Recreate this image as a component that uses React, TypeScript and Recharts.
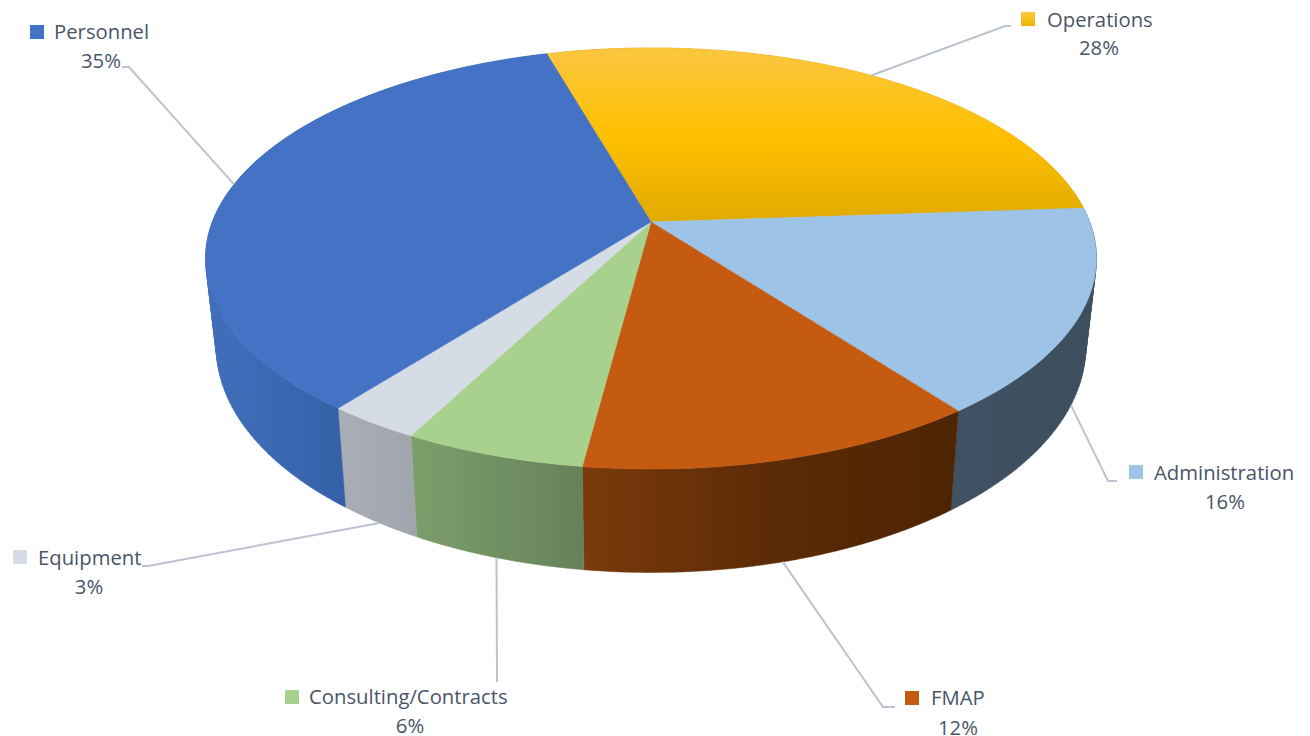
import { PieChart, Pie } from 'recharts'

const categories = ['Operations', 'Administration', 'FMAP', 'Consulting/Contracts', 'Equipment', 'Personnel']
const shares = [28.4, 15.8, 12.4, 5.6, 2.9, 35.0]

const data = categories.map((name, i) => ({ name, value: shares[i] }))

const faceFills = ['url(#ops-face)', '#9dc3e6', '#c55a11', '#a9d18e', '#d6dce5', '#4472c4']
const markerFills = ['url(#ops-marker)', '#9dc3e6', '#c55a11', '#a9d18e', '#d6dce5', '#4472c4']
const wallStops = [
  ['#c99700', '#c99700', '#c99700'],
  ['#3f5163', '#3e4f60', '#3d4e5d'],
  ['#7a3a0b', '#5c2b06', '#4d2404'],
  ['#7c9e6a', '#719062', '#65805a'],
  ['#a9adb5', '#a5a9b1', '#a0a4ac'],
  ['#416fbc', '#3b68b2', '#3360a6'],
]
const wallRanges = [
  [870, 1100],
  [950, 1100],
  [583, 955],
  [415, 586],
  [340, 418],
  [206, 348],
]

// where the text sits, and the elbow of each leader line
const labelLayout = [
  { sq: [1021, 12], name: [1047, 19], pct: [1099, 47], line: [[1005, 26], [1011, 26]] },
  { sq: [1129, 465], name: [1154, 472], pct: [1225, 501], line: [[1108, 481], [1117, 481]] },
  { sq: [905, 691], name: [931, 697], pct: [958, 727], line: [[883, 707], [895, 707]] },
  { sq: [285, 690], name: [309, 696], pct: [410, 725], line: [[497, 682]] },
  { sq: [13, 550], name: [38, 557], pct: [89, 586], line: [[148, 566], [142, 566]] },
  { sq: [30, 25], name: [54, 31], pct: [101, 60], line: [[129, 67], [122, 67]] },
]

const WIDTH = 1310
const HEIGHT = 736
const CX = 651
const CY = 222
const RX = 438.7
const RY = 204.2
const PERSP = 0.1734
const DEPTH = 85.5
const SHRINK = 0.024
const RAD = Math.PI / 180
const textColor = '#4a5568'
const lineColor = '#bcc3d0'
const font = '"Open Sans", sans-serif'

// perspective tilt: angle on the disc to a page position, z=0 top rim, z=1 bottom rim
const project = (deg: number, z: number) => {
  const X = Math.cos(deg * RAD)
  const Y = -Math.sin(deg * RAD)
  const d = 1 - PERSP * Y
  return [CX + ((RX * X) / d) * (1 - z * SHRINK), CY + (RY * Y) / d + (z * DEPTH) / d]
}

const rim = (from: number, to: number, z: number) => {
  const steps = Math.max(2, Math.ceil(Math.abs(to - from)))
  const pts = []
  for (let i = 0; i <= steps; i++) pts.push(project(from + ((to - from) * i) / steps, z))
  return pts
}

const toPath = (pts: number[][]) => pts.map((p, i) => `${i ? 'L' : 'M'}${p[0].toFixed(2)},${p[1].toFixed(2)}`).join('') + 'Z'

const area = (pts: number[][]) =>
  pts.reduce((sum, p, i) => {
    const q = pts[(i + 1) % pts.length]
    return sum + p[0] * q[1] - q[0] * p[1]
  }, 0)

const FaceShape = (props: any) => {
  const fill = faceFills[props.index]
  return <path d={toPath([[CX, CY], ...rim(props.startAngle, props.endAngle, 0)])} fill={fill} stroke={fill} strokeWidth={0.5} />
}

// wall is built from small quads, all wound the same way, so the fold at the
// silhouette does not cancel out under the nonzero fill rule
const WallShape = (props: any) => {
  const fill = `url(#wall-${props.index})`
  const top = rim(props.startAngle, props.endAngle, 0)
  const bottom = rim(props.startAngle, props.endAngle, 1)
  let d = ''
  for (let i = 0; i < top.length - 1; i++) {
    const quad = [top[i], top[i + 1], bottom[i + 1], bottom[i]]
    d += toPath(area(quad) < 0 ? quad.reverse() : quad)
  }
  return <path d={d} fill={fill} stroke={fill} strokeWidth={0.5} />
}

const renderLine = (props: any) => {
  const { index, midAngle } = props
  const front = Math.sin(midAngle * RAD) < -0.1
  const start = project(midAngle, front ? 1 : 0)
  const pts = [start, ...labelLayout[index].line]
  return <polyline key={index} points={pts.map((p) => p.join(',')).join(' ')} fill="none" stroke={lineColor} strokeWidth={2} />
}

const renderLabel = (props: any) => {
  const { index, percent, name } = props
  const l = labelLayout[index]
  return (
    <g key={index} fontFamily={font} fontSize={20.3} fill={textColor}>
      <rect x={l.sq[0]} y={l.sq[1]} width={14} height={14} fill={markerFills[index]} />
      <text x={l.name[0]} y={l.name[1]} dominantBaseline="central">{name}</text>
      <text x={l.pct[0]} y={l.pct[1]} textAnchor="middle" dominantBaseline="central">{`${Math.round(percent * 100)}%`}</text>
    </g>
  )
}

export default function App() {
  return (
    <div style={{ position: 'absolute', left: 0, top: 0, width: WIDTH, height: HEIGHT, background: '#fff' }}>
      <PieChart width={WIDTH} height={HEIGHT} margin={{ top: 0, right: 0, bottom: 0, left: 0 }}>
        <defs>
          <linearGradient id="ops-face" gradientUnits="userSpaceOnUse" x1="0" y1="55" x2="0" y2="218">
            <stop offset="0" stopColor="#fbc53c" />
            <stop offset="0.5" stopColor="#ffc000" />
            <stop offset="1" stopColor="#e2ab00" />
          </linearGradient>
          <linearGradient id="ops-marker" x1="0" y1="0" x2="0" y2="1">
            <stop offset="0" stopColor="#fcc93f" />
            <stop offset="1" stopColor="#efb400" />
          </linearGradient>
          {wallStops.map((stops, i) => (
            <linearGradient key={i} id={`wall-${i}`} gradientUnits="userSpaceOnUse" x1={wallRanges[i][0]} y1="0" x2={wallRanges[i][1]} y2="0">
              <stop offset="0" stopColor={stops[0]} />
              <stop offset="0.5" stopColor={stops[1]} />
              <stop offset="1" stopColor={stops[2]} />
            </linearGradient>
          ))}
        </defs>
        <Pie
          data={data}
          dataKey="value"
          nameKey="name"
          cx={CX}
          cy={CY}
          outerRadius={200}
          startAngle={106.1}
          endAngle={-253.9}
          stroke="none"
          shape={WallShape}
          label={false}
          labelLine={false}
          isAnimationActive={false}
        />
        <Pie
          data={data}
          dataKey="value"
          nameKey="name"
          cx={CX}
          cy={CY}
          outerRadius={200}
          startAngle={106.1}
          endAngle={-253.9}
          stroke="none"
          shape={FaceShape}
          label={renderLabel}
          labelLine={renderLine}
          isAnimationActive={false}
        />
      </PieChart>
    </div>
  )
}
